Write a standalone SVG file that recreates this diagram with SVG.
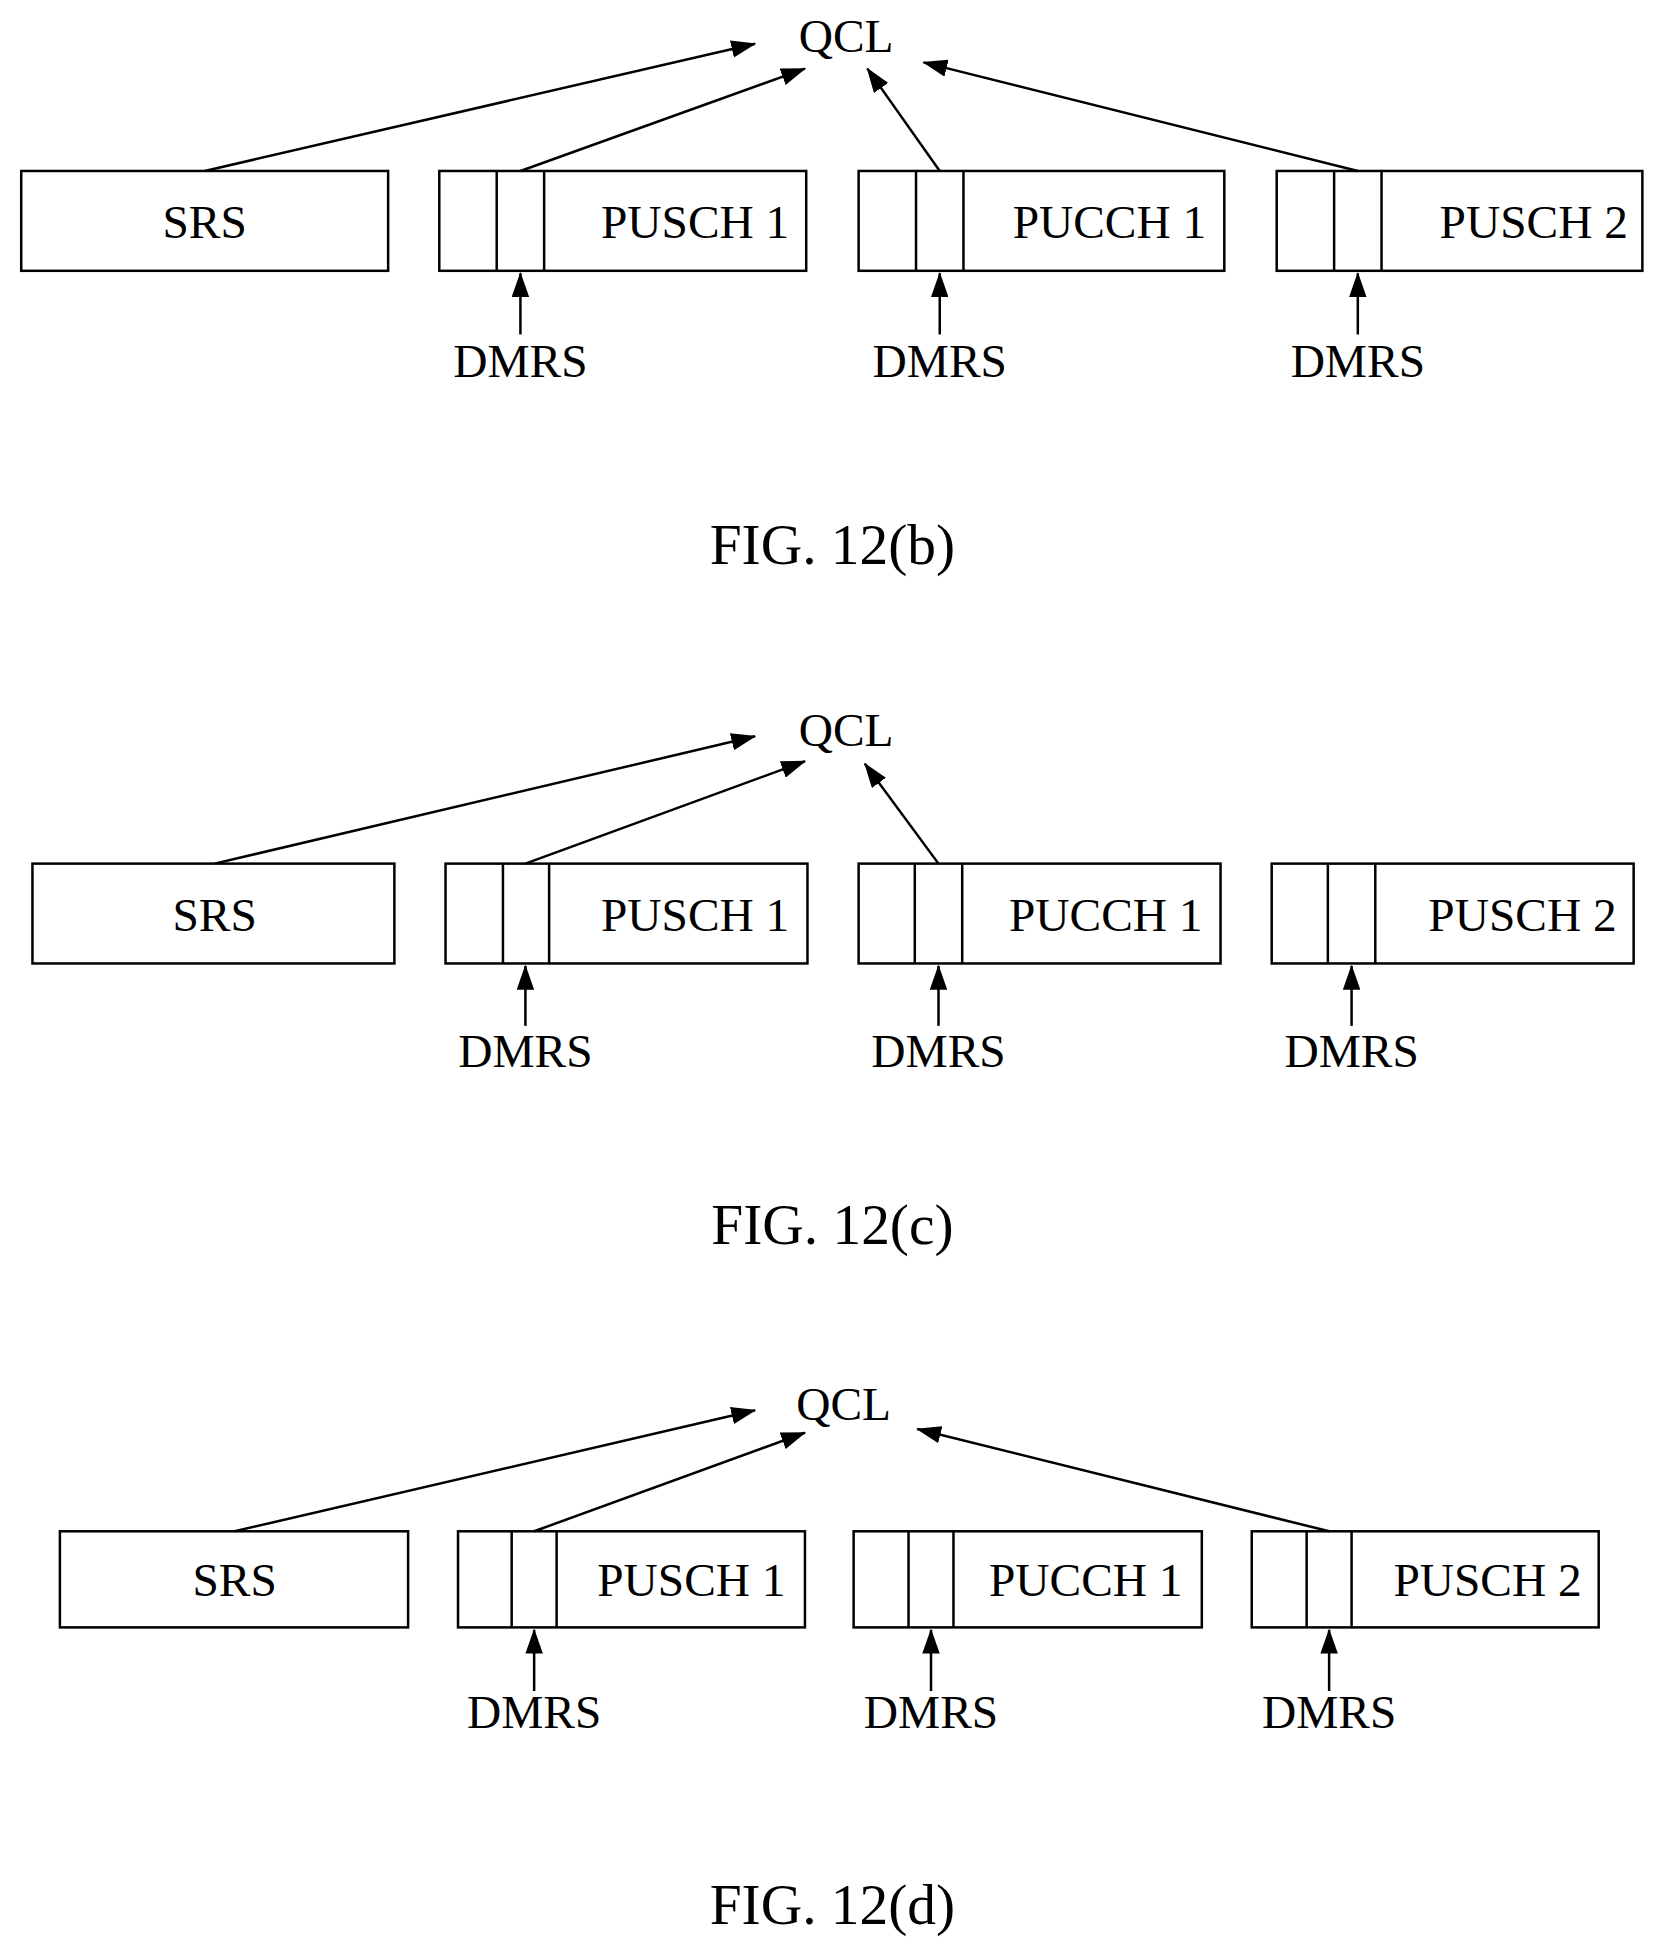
<svg xmlns="http://www.w3.org/2000/svg" width="1660" height="1949" viewBox="0 0 1660 1949">
<style>
.b{fill:none;stroke:#000;stroke-width:2}
text{font-family:"Liberation Serif","Times New Roman",serif;font-size:38px;fill:#000;text-anchor:middle}
.f{font-size:46px}
</style>
<defs><marker id="a2" markerWidth="20" markerHeight="14" refX="19" refY="7" orient="auto" markerUnits="userSpaceOnUse"><path d="M0,0 L20,7 L0,14 Z" fill="#000"/></marker></defs>
<rect width="1660" height="1949" fill="#fff"/>
<g transform="scale(1.248)">
<!-- Panel b -->
<g id="b-qcl"><text x="678" y="42">QCL</text></g>
<g id="b-srs"><rect class="b" x="17" y="137" width="294" height="80"/><text x="164" y="191">SRS</text></g>
<g id="b-pusch1"><rect class="b" x="352" y="137" width="294" height="80"/><path class="b" d="M398,137V217M436,137V217"/><text x="557" y="191">PUSCH 1</text></g>
<g id="b-pucch1"><rect class="b" x="688" y="137" width="293" height="80"/><path class="b" d="M734,137V217M772,137V217"/><text x="889" y="191">PUCCH 1</text></g>
<g id="b-pusch2"><rect class="b" x="1023" y="137" width="293" height="80"/><path class="b" d="M1069,137V217M1107,137V217"/><text x="1229" y="191">PUSCH 2</text></g>
<g id="b-dmrs"><text x="417" y="302">DMRS</text><text x="753" y="302">DMRS</text><text x="1088" y="302">DMRS</text></g>
<g id="b-fig"><text class="f" x="667" y="452">FIG. 12(b)</text></g>
<g id="b-connectors" style="stroke:#000;stroke-width:2;fill:none" marker-end="url(#a2)">
<path d="M164,137L605,35"/><path d="M417,137L645,55"/><path d="M753,137L695,55"/><path d="M1088,137L740,50"/>
<path d="M417,268V219"/><path d="M753,268V219"/><path d="M1088,268V219"/>
</g>
<!-- Panel c -->
<g id="c-qcl"><text x="678" y="598">QCL</text></g>
<g id="c-srs"><rect class="b" x="26" y="692" width="290" height="80"/><text x="172" y="746">SRS</text></g>
<g id="c-pusch1"><rect class="b" x="357" y="692" width="290" height="80"/><path class="b" d="M403,692V772M440,692V772"/><text x="557" y="746">PUSCH 1</text></g>
<g id="c-pucch1"><rect class="b" x="688" y="692" width="290" height="80"/><path class="b" d="M733,692V772M771,692V772"/><text x="886" y="746">PUCCH 1</text></g>
<g id="c-pusch2"><rect class="b" x="1019" y="692" width="290" height="80"/><path class="b" d="M1064,692V772M1102,692V772"/><text x="1220" y="746">PUSCH 2</text></g>
<g id="c-dmrs"><text x="421" y="855">DMRS</text><text x="752" y="855">DMRS</text><text x="1083" y="855">DMRS</text></g>
<g id="c-fig"><text class="f" x="667" y="997">FIG. 12(c)</text></g>
<g id="c-connectors" style="stroke:#000;stroke-width:2;fill:none" marker-end="url(#a2)">
<path d="M172,692L605,590"/><path d="M421,692L645,610"/><path d="M752,692L693,612"/>
<path d="M421,822V774"/><path d="M752,822V774"/><path d="M1083,822V774"/>
</g>
<!-- Panel d -->
<g id="d-qcl"><text x="676" y="1138">QCL</text></g>
<g id="d-srs"><rect class="b" x="48" y="1227" width="279" height="77"/><text x="188" y="1279">SRS</text></g>
<g id="d-pusch1"><rect class="b" x="367" y="1227" width="278" height="77"/><path class="b" d="M410,1227V1304M446,1227V1304"/><text x="554" y="1279">PUSCH 1</text></g>
<g id="d-pucch1"><rect class="b" x="684" y="1227" width="279" height="77"/><path class="b" d="M728,1227V1304M764,1227V1304"/><text x="870" y="1279">PUCCH 1</text></g>
<g id="d-pusch2"><rect class="b" x="1003" y="1227" width="278" height="77"/><path class="b" d="M1047,1227V1304M1083,1227V1304"/><text x="1192" y="1279">PUSCH 2</text></g>
<g id="d-dmrs"><text x="428" y="1385">DMRS</text><text x="746" y="1385">DMRS</text><text x="1065" y="1385">DMRS</text></g>
<g id="d-fig"><text class="f" x="667" y="1542">FIG. 12(d)</text></g>
<g id="d-connectors" style="stroke:#000;stroke-width:2;fill:none" marker-end="url(#a2)">
<path d="M188,1227L605,1130"/><path d="M428,1227L645,1148"/><path d="M1065,1227L735,1145"/>
<path d="M428,1355V1306"/><path d="M746,1355V1306"/><path d="M1065,1355V1306"/>
</g>
</g>
</svg>
